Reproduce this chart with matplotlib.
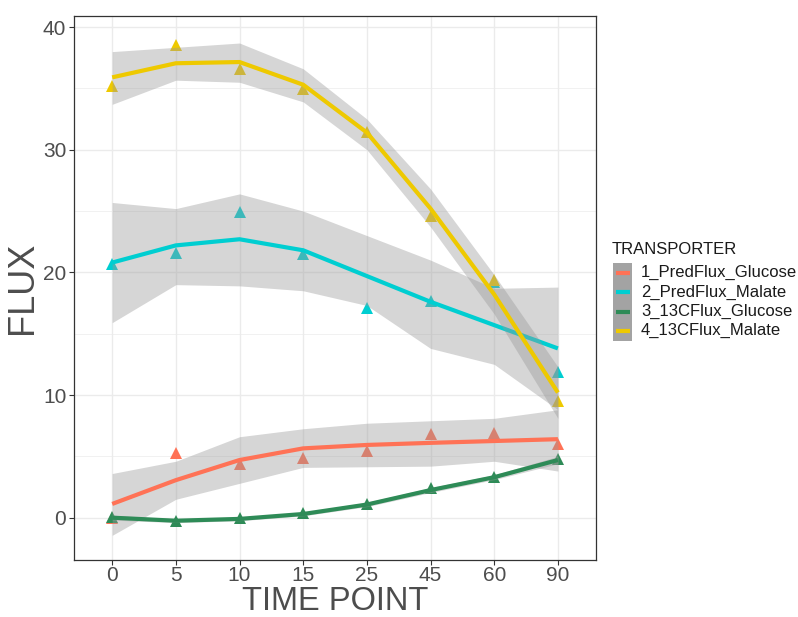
import matplotlib
matplotlib.use("Agg")
import matplotlib.pyplot as plt
from matplotlib.patches import Rectangle
from matplotlib.lines import Line2D

plt.rcParams["font.family"] = ["Liberation Sans", "DejaVu Sans"]

time_labels = ["0", "5", "10", "15", "25", "45", "60", "90"]
transporters = ["1_PredFlux_Glucose", "2_PredFlux_Malate",
                "3_13CFlux_Glucose", "4_13CFlux_Malate"]
colors = ["#FF7256", "#00CED1", "#2E8B57", "#EEC900"]

# measured points
pred_glucose = [0.0, 5.3, 4.4, 4.85, 5.45, 6.8, 6.9, 6.0]
pred_malate = [20.7, 21.6, 24.9, 21.5, 17.1, 17.7, 19.2, 11.9]
c13_glucose = [0.05, -0.25, 0.0, 0.4, 1.1, 2.4, 3.35, 4.75]
c13_malate = [35.2, 38.5, 36.6, 34.95, 31.45, 24.6, 19.4, 9.55]

# smoothed fit and its confidence band
fit_pred_glucose = [1.12, 3.06, 4.7, 5.65, 5.93, 6.1, 6.25, 6.4]
lo_pred_glucose = [-1.44, 1.5, 2.8, 4.1, 4.15, 4.2, 4.6, 3.8]
hi_pred_glucose = [3.6, 4.6, 6.6, 7.25, 7.7, 7.9, 8.1, 8.8]

fit_pred_malate = [20.8, 22.2, 22.7, 21.8, 19.7, 17.6, 15.7, 13.8]
lo_pred_malate = [15.9, 19.0, 18.9, 18.5, 17.3, 13.8, 12.5, 8.8]
hi_pred_malate = [25.7, 25.2, 26.4, 25.0, 23.0, 21.0, 18.7, 18.8]

fit_c13_glucose = [0.0, -0.25, -0.1, 0.3, 1.07, 2.25, 3.3, 4.7]
lo_c13_glucose = [-0.2, -0.4, -0.25, 0.15, 0.9, 2.05, 3.1, 4.4]
hi_c13_glucose = [0.2, -0.1, 0.05, 0.45, 1.25, 2.45, 3.5, 5.0]

fit_c13_malate = [35.9, 37.05, 37.15, 35.3, 31.4, 25.2, 18.2, 10.2]
lo_c13_malate = [33.7, 35.67, 35.5, 33.9, 30.0, 23.7, 16.6, 8.1]
hi_c13_malate = [38.0, 38.35, 38.7, 36.6, 32.5, 26.8, 19.8, 12.3]

points = [pred_glucose, pred_malate, c13_glucose, c13_malate]
fits = [fit_pred_glucose, fit_pred_malate, fit_c13_glucose, fit_c13_malate]
lows = [lo_pred_glucose, lo_pred_malate, lo_c13_glucose, lo_c13_malate]
highs = [hi_pred_glucose, hi_pred_malate, hi_c13_glucose, hi_c13_malate]

xs = list(range(len(time_labels)))

fig = plt.figure(figsize=(7.98, 6.17), dpi=100)
ax = fig.add_axes([0.0927, 0.0924, 0.6543, 0.8816])

# points first, smooth layer on top (as in ggplot)
for pts, col in zip(points, colors):
    ax.plot(xs, pts, linestyle="none", marker="^", markersize=8.5,
            color=col, markeredgewidth=0, zorder=3)

z = 4
for fit, lo, hi, col in zip(fits, lows, highs, colors):
    ax.fill_between(xs, lo, hi, color="#999999", alpha=0.4, linewidth=0, zorder=z)
    ax.plot(xs, fit, color=col, linewidth=3.0, solid_capstyle="butt", zorder=z + 0.5)
    z += 1

ax.set_xlim(-0.6, 7.6)
ax.set_ylim(-3.45, 40.9)
ax.set_xticks(xs)
ax.set_xticklabels(time_labels)
ax.set_yticks([0, 10, 20, 30, 40])
ax.set_yticks([5, 15, 25, 35], minor=True)

ax.grid(True, which="major", color="#EBEBEB", linewidth=1.0, zorder=0)
ax.grid(True, which="minor", axis="y", color="#EBEBEB", linewidth=0.5, zorder=0)
ax.set_axisbelow(True)

for spine in ax.spines.values():
    spine.set_color("#333333")
    spine.set_linewidth(0.9)

ax.tick_params(axis="both", which="major", labelsize=15, labelcolor="#4D4D4D",
               color="#333333", length=3.5, width=0.8, pad=2)
ax.tick_params(axis="x", which="major", pad=1)
ax.tick_params(axis="both", which="minor", length=0)

# x title placed by hand so it sits tight under the tick labels
fig.text(335 / 798, 0.5 / 617, "TIME POINT", fontsize=23.5, color="#4D4D4D",
         ha="center", va="bottom")
ax.set_ylabel("FLUX", fontsize=26, color="#4D4D4D", labelpad=2)

# legend drawn by hand in ggplot style
fig.text(612 / 798, 1 - 249 / 617, "TRANSPORTER", fontsize=12,
         color="#1A1A1A", va="center", ha="left")
key_h = 19.4
key_top = 263
for i, (name, col) in enumerate(zip(transporters, colors)):
    y0 = key_top + i * key_h
    fig.patches.append(Rectangle((613 / 798, 1 - (y0 + key_h) / 617),
                                 19 / 798, key_h / 617,
                                 transform=fig.transFigure,
                                 facecolor="#A3A3A3", edgecolor="none"))
    yc = 1 - (y0 + key_h / 2) / 617
    fig.lines.append(Line2D([615.5 / 798, 629.5 / 798], [yc, yc],
                            transform=fig.transFigure, color=col,
                            linewidth=3.0, solid_capstyle="butt"))
    fig.text(641 / 798, yc, name, fontsize=12, color="#1A1A1A",
             va="center", ha="left")

fig.savefig("out.png", dpi=100)
